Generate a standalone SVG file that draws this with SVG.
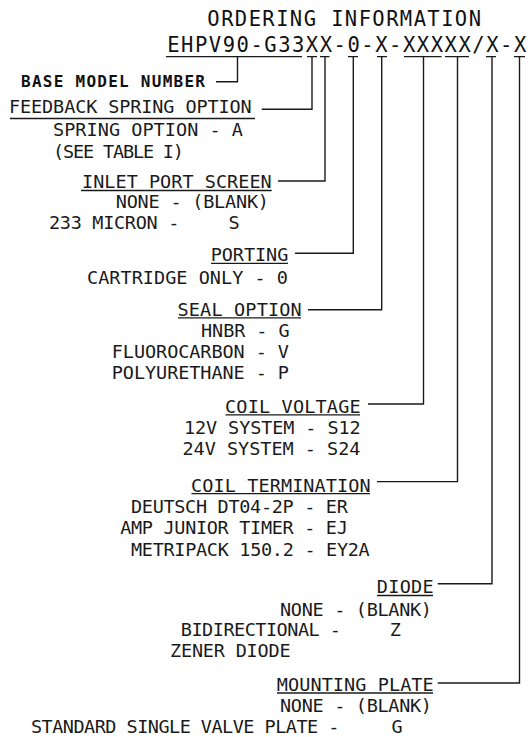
<svg xmlns="http://www.w3.org/2000/svg" width="528" height="737" viewBox="0 0 528 737">
<style>
.t{font-family:"DejaVu Sans Mono","Liberation Mono",monospace;font-size:18.5px;fill:#1a1a1a}
.h{font-family:"DejaVu Sans Mono","Liberation Mono",monospace;font-size:20.5px;fill:#111;text-anchor:middle}
.b{font-family:"DejaVu Sans Mono","Liberation Mono",monospace;font-size:16px;font-weight:bold;fill:#111}
.u{stroke:#1a1a1a;stroke-width:1.3;fill:none}
.c{stroke:#1a1a1a;stroke-width:1.4;fill:none}
</style>
<rect width="528" height="737" fill="#fff"/>
<g id="header">
<text class="h" y="25.5" x="213.5 227.3 241 254.8 268.5 282.3 296 309.8 323.5 337.3 351 364.8 378.5 392.3 406 419.8 433.5 447.3 461 474.8">ORDERING INFORMATION</text>
<text class="h" y="51.5" x="173.3 187.2 201.1 214.9 228.8 242.7 256.6 270.4 284.3 298.1 312 325.9 339.7 353.6 367.5 381.4 395.2 409.1 423 436.8 450.7 464.6 478.5 492.3 506.2 520.1">EHPV90-G33XX-0-X-XXXXX/X-X</text>
<path class="u" d="M166,56.7H302 M307,56.7H317 M320,56.7H329.5 M348,56.7H358 M377,56.7H387 M404,56.7H441.5 M445,56.7H469 M486,56.7H496 M514,56.7H525"/>
</g>
<g id="connectors">
<path class="c" d="M216,81.7H237.5V56.7"/>
<path class="c" d="M261.7,109.3H312V56.7"/>
<path class="c" d="M278,181H325V56.7"/>
<path class="c" d="M295,253.3H353.3V56.7"/>
<path class="c" d="M308,309.7H381.7V56.7"/>
<path class="c" d="M368,404H423.5V56.7"/>
<path class="c" d="M377,481.6H457.5V56.7"/>
<path class="c" d="M437.7,583.7H492V56.7"/>
<path class="c" d="M437.7,683H519.5V56.7"/>
</g>
<g id="base-model-number">
<text class="b" x="21" y="87" textLength="184" lengthAdjust="spacing">BASE MODEL NUMBER</text>
</g>
<g id="feedback-spring-option">
<text class="t" x="9" y="113.3" textLength="242.7" lengthAdjust="spacing">FEEDBACK SPRING OPTION</text>
<line class="u" x1="10" y1="118.5" x2="255" y2="118.5"/>
<text class="t" x="53" y="136" textLength="190" lengthAdjust="spacing">SPRING OPTION - A</text>
<text class="t" x="53" y="158.2" textLength="131" lengthAdjust="spacing">(SEE TABLE I)</text>
</g>
<g id="inlet-port-screen">
<text class="t" x="82" y="188.3" textLength="189.7" lengthAdjust="spacing">INLET PORT SCREEN</text>
<line class="u" x1="81" y1="190.5" x2="271.7" y2="190.5"/>
<text class="t" x="115.7" y="208.3" textLength="153.3" lengthAdjust="spacing">NONE - (BLANK)</text>
<text class="t" y="229"><tspan x="49" textLength="130.3" lengthAdjust="spacing">233 MICRON -</tspan> <tspan x="228.5">S</tspan></text>
</g>
<g id="porting">
<text class="t" x="210.7" y="261" textLength="77.6" lengthAdjust="spacing">PORTING</text>
<line class="u" x1="211" y1="263.3" x2="288" y2="263.3"/>
<text class="t" x="87" y="283.5" textLength="201" lengthAdjust="spacing">CARTRIDGE ONLY - 0</text>
</g>
<g id="seal-option">
<text class="t" x="177.5" y="315.5" textLength="124.2" lengthAdjust="spacing">SEAL OPTION</text>
<line class="u" x1="178" y1="317.8" x2="301" y2="317.8"/>
<text class="t" x="201" y="337.3" textLength="88.6" lengthAdjust="spacing">HNBR - G</text>
<text class="t" x="111.8" y="358.2" textLength="177.2" lengthAdjust="spacing">FLUOROCARBON - V</text>
<text class="t" x="111.8" y="379.4" textLength="177.2" lengthAdjust="spacing">POLYURETHANE - P</text>
</g>
<g id="coil-voltage">
<text class="t" x="225" y="412.9" textLength="135.6" lengthAdjust="spacing">COIL VOLTAGE</text>
<line class="u" x1="225.5" y1="414.8" x2="360" y2="414.8"/>
<text class="t" x="184" y="433.8" textLength="176.6" lengthAdjust="spacing">12V SYSTEM - S12</text>
<text class="t" x="182.5" y="454.6" textLength="178" lengthAdjust="spacing">24V SYSTEM - S24</text>
</g>
<g id="coil-termination">
<text class="t" x="191" y="491.7" textLength="179.7" lengthAdjust="spacing">COIL TERMINATION</text>
<line class="u" x1="191.5" y1="493.6" x2="370" y2="493.6"/>
<text class="t" x="131" y="512.9" textLength="216.8" lengthAdjust="spacing">DEUTSCH DT04-2P - ER</text>
<text class="t" x="120.2" y="534" textLength="227.6" lengthAdjust="spacing">AMP JUNIOR TIMER - EJ</text>
<text class="t" x="131" y="555.7" textLength="238.7" lengthAdjust="spacing">METRIPACK 150.2 - EY2A</text>
</g>
<g id="diode">
<text class="t" x="376.8" y="593" textLength="56.9" lengthAdjust="spacing">DIODE</text>
<line class="u" x1="377" y1="595.5" x2="433" y2="595.5"/>
<text class="t" x="280" y="615.7" textLength="152" lengthAdjust="spacing">NONE - (BLANK)</text>
<text class="t" y="635.9"><tspan x="180.8" textLength="160.2" lengthAdjust="spacing">BIDIRECTIONAL -</tspan> <tspan x="389.8">Z</tspan></text>
<text class="t" x="170" y="657" textLength="120.6" lengthAdjust="spacing">ZENER DIODE</text>
</g>
<g id="mounting-plate">
<text class="t" x="276.8" y="690.7" textLength="156.9" lengthAdjust="spacing">MOUNTING PLATE</text>
<line class="u" x1="277" y1="693" x2="433" y2="693"/>
<text class="t" x="280" y="711.6" textLength="152" lengthAdjust="spacing">NONE - (BLANK)</text>
<text class="t" y="732.5"><tspan x="31" textLength="308.4" lengthAdjust="spacing">STANDARD SINGLE VALVE PLATE -</tspan> <tspan x="391.5">G</tspan></text>
</g>
</svg>
